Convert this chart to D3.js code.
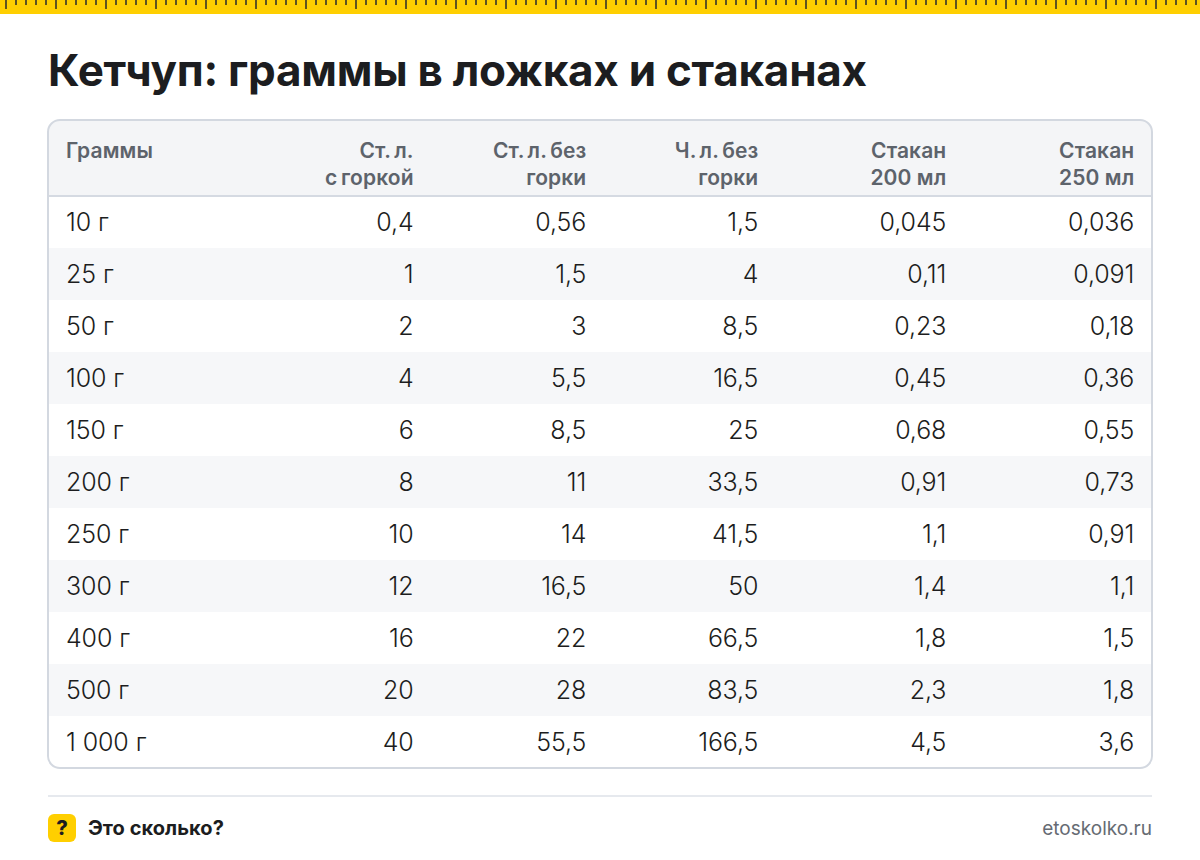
<!DOCTYPE html>
<html><head><meta charset="utf-8">
<script src="https://cdn.jsdelivr.net/npm/d3@7"></script>
<style>html,body{margin:0;padding:0;background:#fff}svg{display:block;font-family:Inter,sans-serif}</style>
</head><body><div id="chart"></div>
<script>
const title = "Кетчуп: граммы в ложках и стаканах";
const grams = ["10 г","25 г","50 г","100 г","150 г","200 г","250 г","300 г","400 г","500 г","1 000 г"];
const headers = [["Граммы"],["Ст. л.","с горкой"],["Ст. л. без","горки"],["Ч. л. без","горки"],["Стакан","200 мл"],["Стакан","250 мл"]];
const tbspHeaped = ["0,4","1","2","4","6","8","10","12","16","20","40"];
const tbspLevel = ["0,56","1,5","3","5,5","8,5","11","14","16,5","22","28","55,5"];
const tspLevel = ["1,5","4","8,5","16,5","25","33,5","41,5","50","66,5","83,5","166,5"];
const glass200 = ["0,045","0,11","0,23","0,45","0,68","0,91","1,1","1,4","1,8","2,3","4,5"];
const glass250 = ["0,036","0,091","0,18","0,36","0,55","0,73","0,91","1,1","1,5","1,8","3,6"];
const columns = [tbspHeaped,tbspLevel,tspLevel,glass200,glass250];
const colRight = [413.6,586.3,758.3,946.3,1134.3];

const W=1200,H=860,L=48,R=1152,T=120,HB=196,B=768;
const svg=d3.select("#chart").append("svg").attr("width",W).attr("height",H).attr("viewBox",[0,0,W,H]);

// ruler
svg.append("rect").attr("width",W).attr("height",14).attr("fill","#ffcf00");
svg.append("g").selectAll("rect").data(d3.range(0,120)).join("rect")
 .attr("x",i=>5+i*10).attr("y",0).attr("width",2)
 .attr("height",i=>i%5===0?9:5).attr("fill","#5f5420");

svg.append("text").attr("x",48).attr("y",86).attr("font-size",44).attr("font-weight",700)
 .attr("letter-spacing","-0.27").attr("fill","#1c1d20").text(title);

const y=d3.scaleBand().domain(grams).range([HB,B-0]);
const defs=svg.append("defs");
defs.append("clipPath").attr("id","c").append("rect").attr("x",L).attr("y",T).attr("width",R-L).attr("height",B-T).attr("rx",12);
const g=svg.append("g").attr("clip-path","url(#c)");
g.append("rect").attr("x",L).attr("y",T).attr("width",R-L).attr("height",HB-T).attr("fill","#f4f5f7");
g.selectAll(".row").data(grams).join("rect").attr("class","row")
 .attr("x",L).attr("width",R-L).attr("y",d=>y(d)).attr("height",y.bandwidth())
 .attr("fill",(d,i)=>i%2?"#f6f7f9":"#fff");
g.append("rect").attr("x",L).attr("y",HB-1).attr("width",R-L).attr("height",2).attr("fill","#d5dae2");
svg.append("rect").attr("x",L).attr("y",T).attr("width",R-L).attr("height",B-T).attr("rx",12)
 .attr("fill","none").attr("stroke","#d3d8e0").attr("stroke-width",2);

// header
const hx=[66,...colRight];
headers.forEach((h,i)=>{
 h.forEach((t,j)=>svg.append("text").attr("x",hx[i]).attr("y",158+j*27)
  .attr("text-anchor",i?"end":"start").attr("font-size",21).attr("font-weight",600)
  .attr("letter-spacing","0.1").attr("word-spacing",/\d/.test(t)?"0":"-1.8").attr("fill","#5d636b").text(t));
});

// body
const cell=sel=>sel.attr("font-size",25).attr("font-weight",300).attr("fill","#1c1d20").attr("letter-spacing","-0.1");
svg.append("g").selectAll("text").data(grams).join("text").call(cell)
 .attr("x",66).attr("y",d=>y(d)+y.bandwidth()/2+9.4).text(d=>d);
columns.forEach((col,c)=>{
 svg.append("g").selectAll("text").data(col).join("text").call(cell)
  .attr("text-anchor","end").attr("x",colRight[c])
  .attr("y",(d,i)=>y(grams[i])+y.bandwidth()/2+9.4).text(d=>d);
});

// footer
svg.append("rect").attr("x",L).attr("y",795).attr("width",R-L).attr("height",2).attr("fill","#e6e9ee");
svg.append("rect").attr("x",48).attr("y",814).attr("width",28).attr("height",28).attr("rx",6).attr("fill","#ffcf00");
svg.append("text").attr("x",62).attr("y",835).attr("text-anchor","middle").attr("font-size",20).attr("font-weight",800).attr("fill","#1c1d20").text("?");
svg.append("text").attr("x",88).attr("y",835).attr("font-size",20).attr("font-weight",700).attr("fill","#1c1d20").attr("letter-spacing","0.05").text("Это сколько?");
svg.append("text").attr("x",1152).attr("y",835).attr("text-anchor","end").attr("font-size",19).attr("fill","#666b73").text("etoskolko.ru");
</script></body></html>
